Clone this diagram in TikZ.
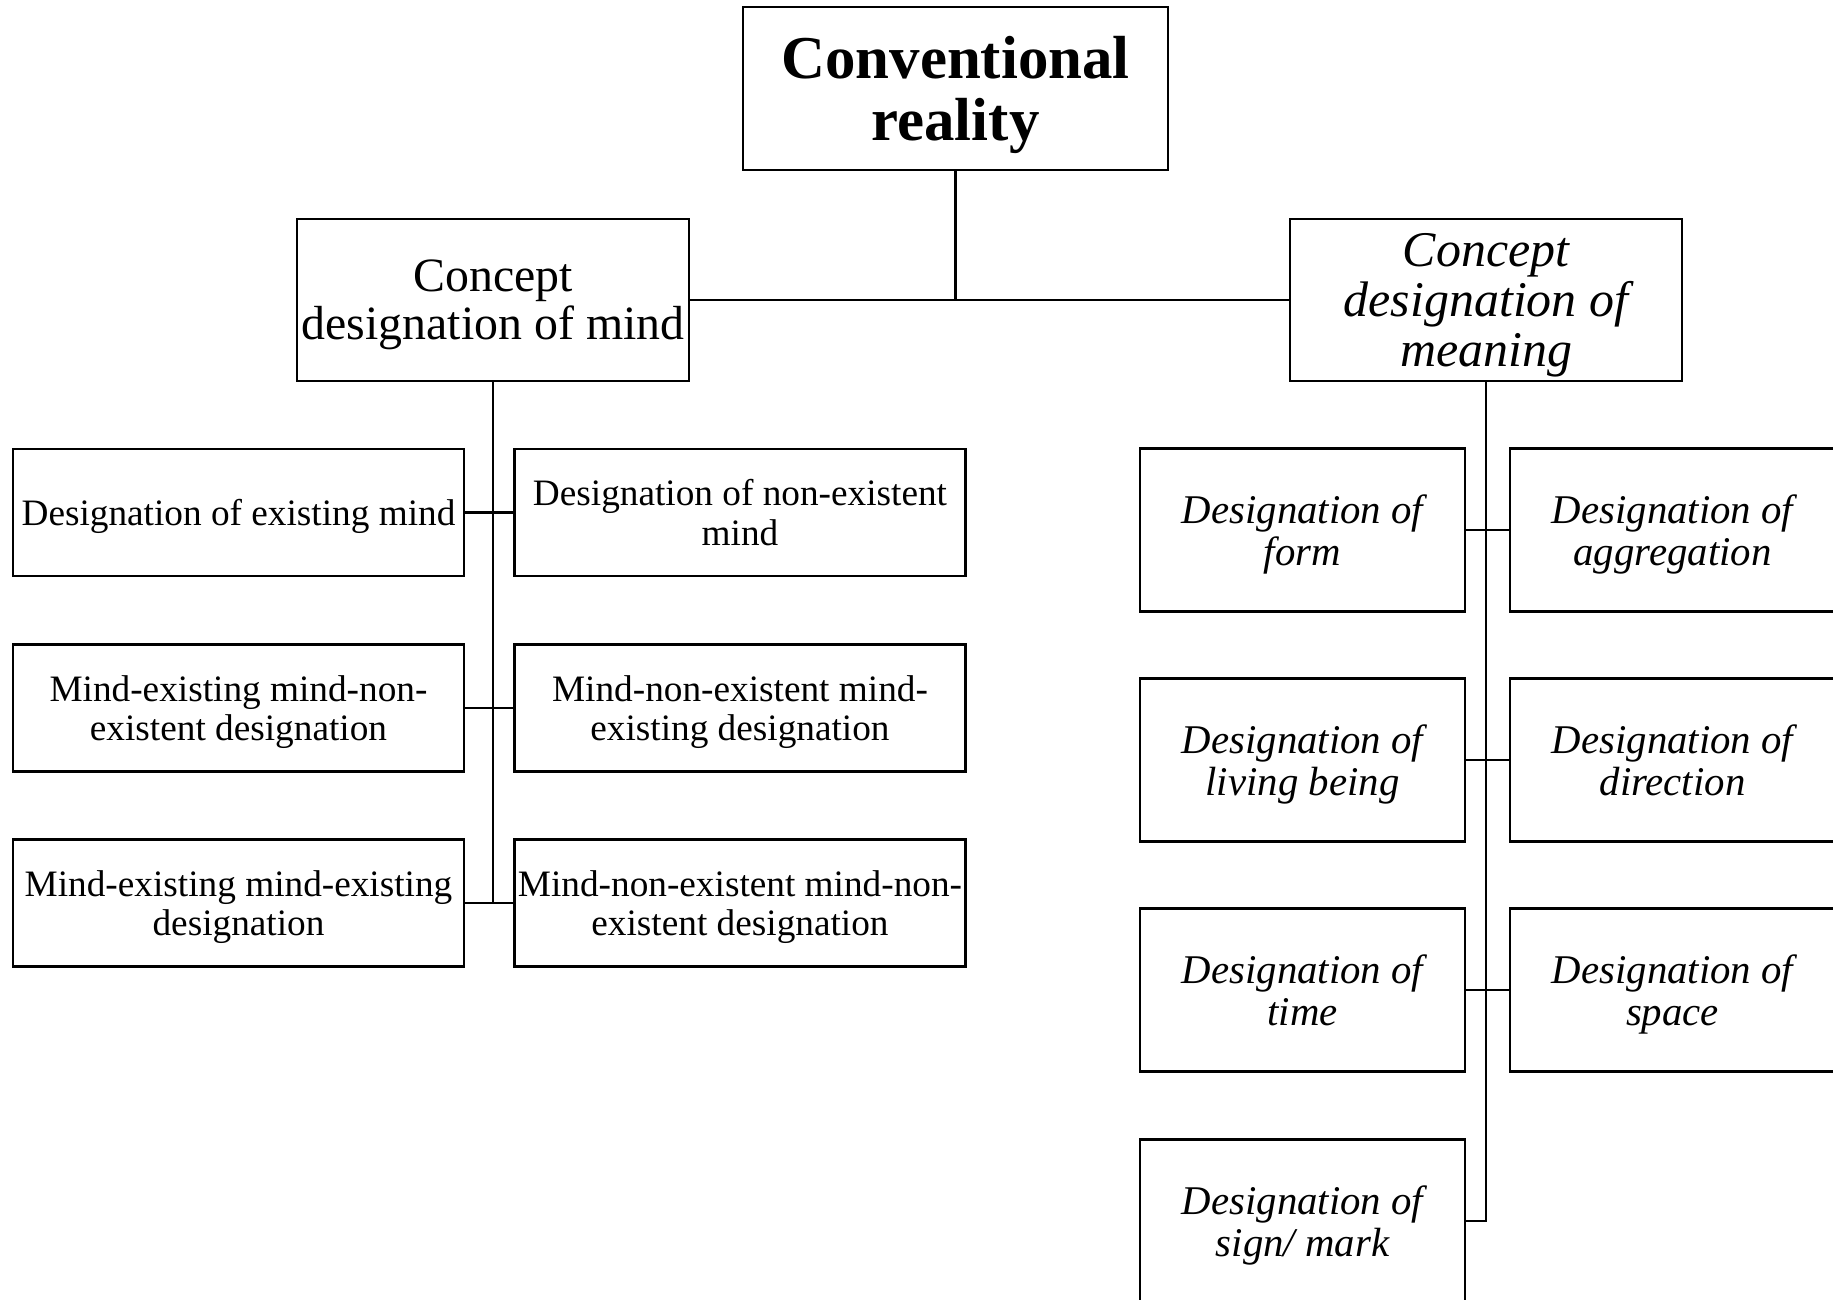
\documentclass[tikz,border=0pt]{standalone}
\usepackage{fontspec}
\setmainfont{Liberation Serif}
\usetikzlibrary{positioning, calc}
\tikzset{
    boxT/.style={draw, line width=0.75pt, align=center, inner sep=0pt, text depth=0pt,
        minimum width=4.25cm, minimum height=1.63cm,
        font=\fontsize{17.3}{17.8}\selectfont\bfseries},
    boxC/.style={draw, line width=0.75pt, align=center, inner sep=0pt, text depth=0pt,
        minimum width=3.92cm, minimum height=1.62cm,
        font=\fontsize{13.6}{13.7}\selectfont},
    boxCi/.style={boxC, font=\fontsize{14.2}{14.2}\selectfont\itshape},
    boxM/.style={draw, line width=0.75pt, align=center, inner sep=0pt, text depth=0pt,
        minimum width=4.51cm, minimum height=1.27cm,
        font=\fontsize{10.6}{11.3}\selectfont},
    boxS/.style={draw, line width=0.75pt, align=center, inner sep=0pt, text depth=0pt,
        minimum width=3.25cm, minimum height=1.63cm,
        font=\fontsize{11.6}{12}\selectfont\itshape},
    link/.style={line width=0.75pt}
}

\begin{document}
\begin{tikzpicture}[x=0.01cm, y=-0.01cm]
    \useasboundingbox (0,0) rectangle (1833,1300);
    \clip (0,0) rectangle (1833,1300);
    % columns and rows
    \def \mL {238.5}
    \def \mR {740}
    \def \sL {1302.5}
    \def \sR {1672.5}
    \node[boxT] (real) at (955.5, 88.5) {Conventional\\reality};
    \node[boxC] (mind) at (493, 300) {Concept\\designation of mind};
    \node[boxCi] (mean) at (1486, 300) {Concept\\designation of\\meaning};
    % mind side
    \node[boxM] (m1) at (\mL, 512.5) {Designation of existing mind};
    \node[boxM] (m2) at (\mR, 512.5) {Designation of non-existent\\mind};
    \node[boxM] (m3) at (\mL, 708) {Mind-existing mind-non-\\existent designation};
    \node[boxM] (m4) at (\mR, 708) {Mind-non-existent mind-\\existing designation};
    \node[boxM] (m5) at (\mL, 903) {Mind-existing mind-existing\\designation};
    \node[boxM] (m6) at (\mR, 903) {Mind-non-existent mind-non-\\existent designation};
    % meaning side
    \node[boxS] (s1) at (\sL, 530) {Designation of\\form};
    \node[boxS] (s2) at (\sR, 530) {Designation of\\aggregation};
    \node[boxS] (s3) at (\sL, 760) {Designation of\\living being};
    \node[boxS] (s4) at (\sR, 760) {Designation of\\direction};
    \node[boxS] (s5) at (\sL, 990) {Designation of\\time};
    \node[boxS] (s6) at (\sR, 990) {Designation of\\space};
    \node[boxS] (s7) at (\sL, 1221) {Designation of\\sign/ mark};
    % links
    \draw[link] (mind.east) -- (mean.west);
    \draw[link] (real.south) -- (real.south |- mind.east);
    \draw[link] (mind.south) -- (mind.south |- m5.east);
    \draw[link] (m1.east) -- (m2.west);
    \draw[link] (m3.east) -- (m4.west);
    \draw[link] (m5.east) -- (m6.west);
    \draw[link] (mean.south) |- (s7.east);
    \draw[link] (s1.east) -- (s2.west);
    \draw[link] (s3.east) -- (s4.west);
    \draw[link] (s5.east) -- (s6.west);
\end{tikzpicture}
\end{document}
